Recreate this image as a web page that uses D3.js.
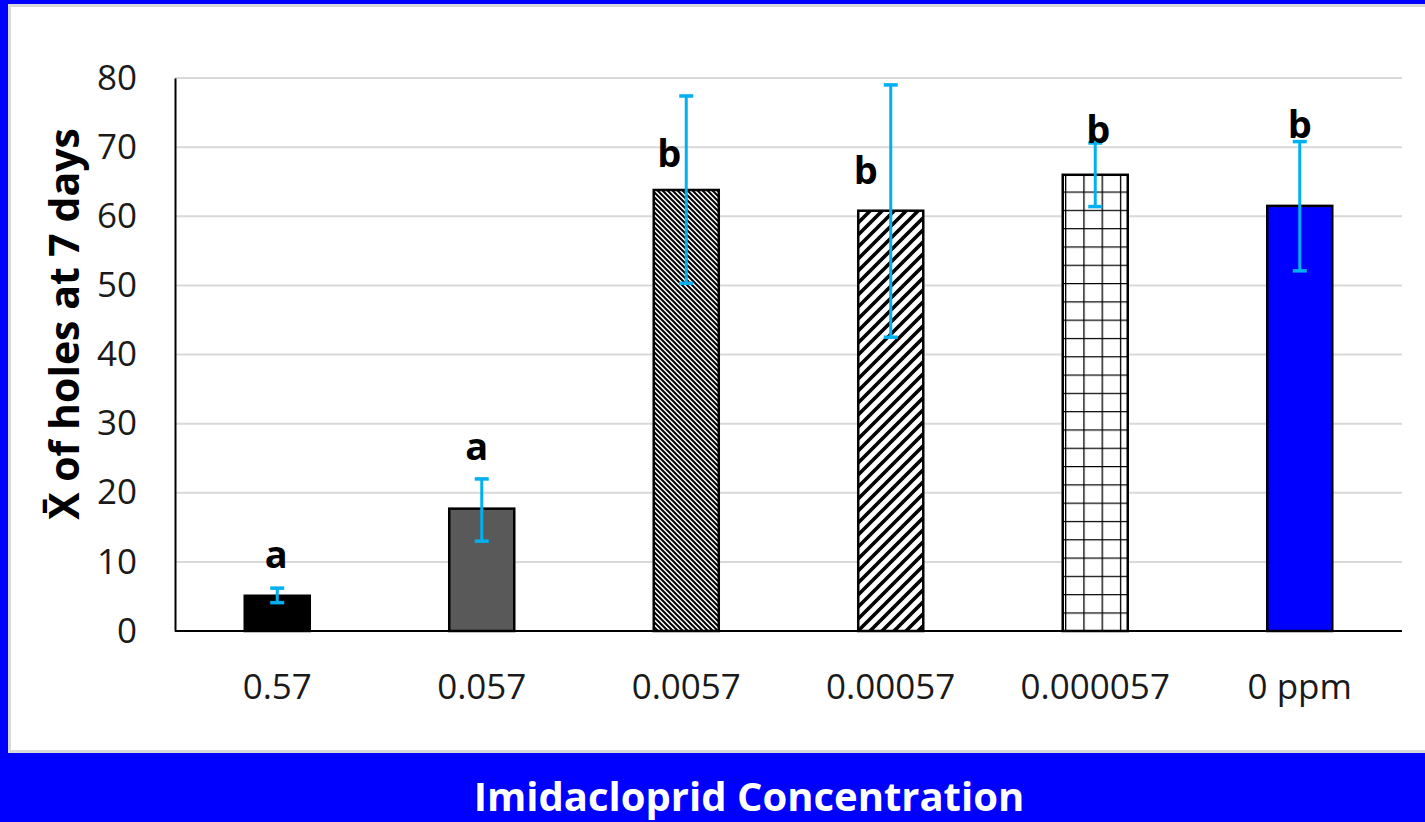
<!DOCTYPE html>
<html>
<head>
<meta charset="utf-8">
<script src="https://cdn.jsdelivr.net/npm/d3@7"></script>
<style>
  html, body { margin: 0; padding: 0; background: #0000ff; overflow: hidden; }
  text { font-family: "Open Sans", "Noto Sans", sans-serif; }
</style>
</head>
<body>
<div class="chart"></div>
<script>
// data
var categories = ["0.57", "0.057", "0.0057", "0.00057", "0.000057", "0 ppm"];
var means = [5.1, 17.7, 63.8, 60.8, 66.0, 61.5];
var errLow = [4.1, 13.0, 50.3, 42.5, 61.4, 52.1];
var errHigh = [6.2, 22.0, 77.4, 79.0, 70.6, 70.8];
var letters = ["a", "a", "b", "b", "b", "b"];
var letterAt = [9.1, 24.7, 67.1, 64.7, 70.6, 71.3];
var yTicks = [0, 10, 20, 30, 40, 50, 60, 70, 80];

var svgWidth = 1425;
var svgHeight = 822;

var margin = { top: 78, left: 175, right: 23, bottom: 191 };
var width = svgWidth - margin.left - margin.right;
var height = svgHeight - margin.top - margin.bottom;

var svg = d3.select(".chart")
  .append("svg")
  .attr("width", svgWidth)
  .attr("height", svgHeight)
  .style("display", "block");

// background: blue frame + white panel
svg.append("rect")
  .attr("width", svgWidth)
  .attr("height", svgHeight)
  .attr("fill", "#0000ff");

svg.append("rect")
  .attr("x", 9.5)
  .attr("y", 5.5)
  .attr("width", 1425)
  .attr("height", 746)
  .attr("fill", "#ffffff")
  .attr("stroke", "#d9d9d9")
  .attr("stroke-width", 3);

// fill patterns
var defs = svg.append("defs");

var dense = defs.append("pattern")
  .attr("id", "dense")
  .attr("patternUnits", "userSpaceOnUse")
  .attr("width", 5).attr("height", 5);
dense.append("rect").attr("width", 5).attr("height", 5).attr("fill", "#fff");
dense.append("path")
  .attr("d", "M-1,-1 L6,6 M-1,4 L1,6 M4,-1 L6,1")
  .attr("stroke", "#000").attr("stroke-width", 2);

var wide = defs.append("pattern")
  .attr("id", "wide")
  .attr("patternUnits", "userSpaceOnUse")
  .attr("width", 12).attr("height", 12);
wide.append("rect").attr("width", 12).attr("height", 12).attr("fill", "#fff");
wide.append("path")
  .attr("d", "M-1,13 L13,-1 M-4,4 L4,-4 M8,16 L16,8")
  .attr("stroke", "#000").attr("stroke-width", 3.6);

var cell = 18.3;
var grid = defs.append("pattern")
  .attr("id", "grid")
  .attr("patternUnits", "userSpaceOnUse")
  .attr("x", 1073 % cell).attr("y", 186.7 % cell)
  .attr("width", cell).attr("height", cell);
grid.append("rect").attr("width", cell).attr("height", cell).attr("fill", "#fff");
grid.append("path")
  .attr("d", "M0,0 V" + cell + " M0,0 H" + cell)
  .attr("stroke", "#000").attr("stroke-width", 2.6);

var fills = ["#000000", "#595959", "url(#dense)", "url(#wide)", "url(#grid)", "#0000ff"];
var letterNudge = [-1, -5, -17, -25, 3, 0];

var chartGroup = svg.append("g")
  .attr("transform", `translate(${margin.left}, ${margin.top})`);

// scales
var xBandScale = d3.scaleBand()
  .domain(categories)
  .range([0, width])
  .paddingInner(0.682)
  .paddingOuter(0.341);

var yLinearScale = d3.scaleLinear()
  .domain([0, 80])
  .range([height, 0]);

// gridlines
chartGroup.append("g")
  .selectAll("line")
  .data(yTicks.slice(1))
  .enter()
  .append("line")
  .attr("x1", 0)
  .attr("x2", width)
  .attr("y1", d => yLinearScale(d))
  .attr("y2", d => yLinearScale(d))
  .attr("stroke", "#d9d9d9")
  .attr("stroke-width", 2);

// axes
var leftAxis = d3.axisLeft(yLinearScale).tickValues(yTicks).tickSize(0).tickPadding(38);
var bottomAxis = d3.axisBottom(xBandScale).tickSize(0).tickPadding(43);

var yAxisG = chartGroup.append("g").call(leftAxis);
yAxisG.select(".domain").attr("stroke", "#000").attr("stroke-width", 2);
yAxisG.selectAll("text")
  .attr("font-size", 35)
  .attr("font-family", "Open Sans")
  .attr("fill", "#1a1a1a");

var xAxisG = chartGroup.append("g")
  .attr("transform", `translate(0, ${height})`)
  .call(bottomAxis);
xAxisG.select(".domain").remove();
xAxisG.selectAll("text")
  .attr("font-size", 35)
  .attr("font-family", "Open Sans")
  .attr("fill", "#1a1a1a");

// bars
var rows = categories.map((c, i) => ({ cat: c, mean: means[i], lo: errLow[i], hi: errHigh[i], letter: letters[i], at: letterAt[i], i: i }));

chartGroup.selectAll(".bar")
  .data(rows)
  .enter()
  .append("rect")
  .attr("class", "bar")
  .attr("x", d => xBandScale(d.cat))
  .attr("y", d => yLinearScale(d.mean))
  .attr("width", xBandScale.bandwidth())
  .attr("height", d => height - yLinearScale(d.mean))
  .attr("fill", d => fills[d.i])
  .attr("stroke", "#000")
  .attr("stroke-width", 2.5);

// x axis line on top of bars
chartGroup.append("line")
  .attr("x1", 0).attr("x2", width)
  .attr("y1", height).attr("y2", height)
  .attr("stroke", "#000")
  .attr("stroke-width", 2);

// error bars
var errG = chartGroup.selectAll(".err")
  .data(rows)
  .enter()
  .append("g")
  .attr("class", "err")
  .attr("transform", d => `translate(${xBandScale(d.cat) + xBandScale.bandwidth() / 2}, 0)`);

errG.append("line")
  .attr("y1", d => yLinearScale(d.lo))
  .attr("y2", d => yLinearScale(d.hi))
  .attr("stroke", "#00b0f0")
  .attr("stroke-width", 3);

errG.selectAll(".cap")
  .data(d => [d.lo, d.hi])
  .enter()
  .append("line")
  .attr("x1", -7).attr("x2", 7)
  .attr("y1", d => yLinearScale(d))
  .attr("y2", d => yLinearScale(d))
  .attr("stroke", "#00b0f0")
  .attr("stroke-width", 3.5);

// significance letters
chartGroup.selectAll(".letter")
  .data(rows)
  .enter()
  .append("text")
  .attr("class", "letter")
  .attr("x", d => xBandScale(d.cat) + xBandScale.bandwidth() / 2 + letterNudge[d.i])
  .attr("y", d => yLinearScale(d.at))
  .attr("text-anchor", "middle")
  .attr("font-size", 38)
  .attr("font-weight", "bold")
  .attr("fill", "#000")
  .text(d => d.letter);

// axis titles
svg.append("text")
  .attr("transform", "translate(79, 324) rotate(-90)")
  .attr("text-anchor", "middle")
  .attr("font-size", 41)
  .attr("font-weight", "bold")
  .attr("fill", "#000")
  .text("X\u0304 of holes at 7 days");

svg.append("text")
  .attr("x", 749)
  .attr("y", 811)
  .attr("text-anchor", "middle")
  .attr("font-size", 40)
  .attr("font-weight", "bold")
  .attr("fill", "#ffffff")
  .text("Imidacloprid Concentration");
</script>
</body>
</html>
